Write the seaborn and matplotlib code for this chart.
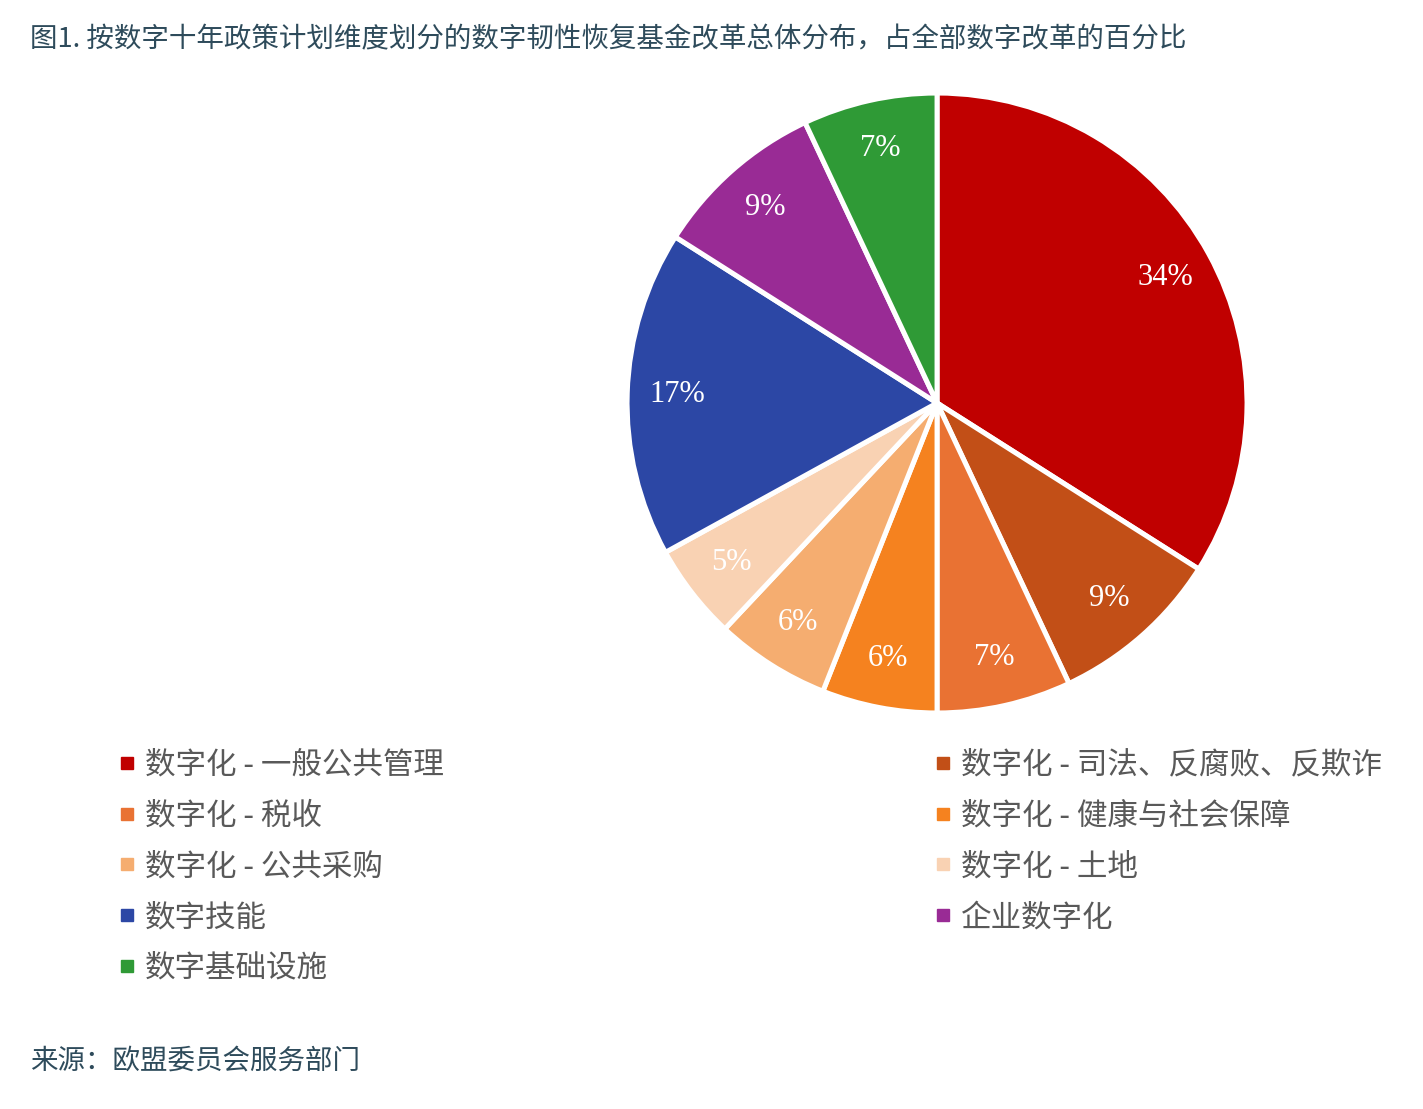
import matplotlib
matplotlib.use("Agg")
import matplotlib.pyplot as plt
from matplotlib.lines import Line2D
import seaborn as sns

sns.set_theme(style="white")
plt.rcParams['font.family'] = ['Noto Sans CJK SC', 'DejaVu Sans']

# --- data ---
categories = [
    "数字化 - 一般公共管理",
    "数字化 - 司法、反腐败、反欺诈",
    "数字化 - 税收",
    "数字化 - 健康与社会保障",
    "数字化 - 公共采购",
    "数字化 - 土地",
    "数字技能",
    "企业数字化",
    "数字基础设施",
]
shares = [34, 9, 7, 6, 6, 5, 17, 9, 7]
colors = ["#C00000", "#C24F17", "#E97233", "#F5821F", "#F5AD70",
          "#F9D2B3", "#2C47A5", "#992B95", "#2F9A36"]

title = "图1. 按数字十年政策计划维度划分的数字韧性恢复基金改革总体分布，占全部数字改革的百分比"
source = "来源：欧盟委员会服务部门"

fig = plt.figure(figsize=(14.23, 11.09), dpi=100)
fig.patch.set_facecolor("white")

# pie axes: center ~ (937, 403) px, radius ~ 310 px
ax = fig.add_axes([0.6585 - 0.2185, 0.6366 - 0.2795, 0.437, 0.559])
wedges, texts, autotexts = ax.pie(
    shares, colors=colors, startangle=90, counterclock=False,
    autopct=lambda p: f"{p:.0f}%", pctdistance=0.84,
    wedgeprops=dict(edgecolor="white", linewidth=3.6),
    textprops=dict(color="white", fontsize=22, family="Liberation Serif"),
)
ax.set_xlim(-1, 1)
ax.set_ylim(-1, 1)
ax.set_aspect("equal")
ax.axis("off")

# legend in two columns, row-major order
def make_handle(c):
    return Line2D([0], [0], marker="s", linestyle="none", markersize=9,
                  markerfacecolor=c, markeredgecolor=c)

left_idx = [0, 2, 4, 6, 8]
right_idx = [1, 3, 5, 7]
for idx, x in [(left_idx, 0.073), (right_idx, 0.6465)]:
    leg = fig.legend([make_handle(colors[i]) for i in idx],
                     [categories[i] for i in idx],
                     loc="upper left", bbox_to_anchor=(x, 0.338),
                     frameon=False, handlelength=0.5,
                     handletextpad=0.35, labelspacing=0.65, borderpad=0,
                     prop=dict(size=22, weight="light"))
    for t in leg.get_texts():
        t.set_color("#595959")

fig.text(0.021, 0.964, title, fontsize=19.8, color="#2E4B5B", va="center",
         weight="light")
fig.text(0.021, 0.043, source, fontsize=19.8, color="#2E4B5B", va="center",
         weight="light")

fig.savefig("out.png", dpi=100, facecolor="white")
